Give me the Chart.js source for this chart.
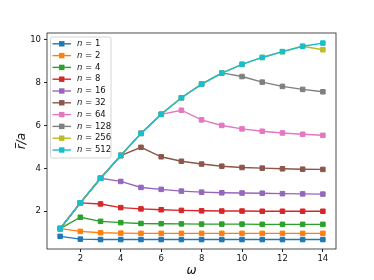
<!DOCTYPE html>
<html>
<head>
<meta charset="utf-8">
<script src="https://cdn.jsdelivr.net/npm/chart.js@4/dist/chart.umd.min.js"></script>
<style>
  body { margin: 0; background: #fff; }
  #wrap { width: 374px; height: 280px; }
</style>
</head>
<body>
<div id="wrap"><canvas id="chart" width="374" height="280"></canvas></div>
<script>
// data
const omega = [1, 2, 3, 4, 5, 6, 7, 8, 9, 10, 11, 12, 13, 14];
const seriesNames = ['1', '2', '4', '8', '16', '32', '64', '128', '256', '512'];
const n1   = [0.83, 0.70, 0.68, 0.68, 0.68, 0.68, 0.68, 0.68, 0.68, 0.68, 0.68, 0.68, 0.68, 0.68];
const n2   = [1.19, 1.06, 1.00, 0.98, 0.97, 0.97, 0.97, 0.97, 0.97, 0.97, 0.97, 0.97, 0.97, 0.97];
const n4   = [1.19, 1.72, 1.53, 1.47, 1.43, 1.42, 1.41, 1.40, 1.40, 1.40, 1.39, 1.39, 1.39, 1.39];
const n8   = [1.19, 2.39, 2.34, 2.17, 2.11, 2.07, 2.04, 2.02, 2.01, 2.01, 2.00, 2.00, 2.00, 2.00];
const n16  = [1.19, 2.39, 3.54, 3.39, 3.11, 3.02, 2.94, 2.89, 2.86, 2.85, 2.84, 2.82, 2.81, 2.80];
const n32  = [1.19, 2.39, 3.54, 4.60, 4.98, 4.54, 4.33, 4.20, 4.10, 4.04, 4.01, 3.98, 3.96, 3.95];
const n64  = [1.19, 2.39, 3.54, 4.60, 5.63, 6.52, 6.71, 6.26, 6.00, 5.84, 5.73, 5.65, 5.59, 5.54];
const n128 = [1.19, 2.39, 3.54, 4.60, 5.63, 6.52, 7.29, 7.93, 8.45, 8.28, 8.02, 7.82, 7.68, 7.57];
const n256 = [1.19, 2.39, 3.54, 4.60, 5.63, 6.52, 7.29, 7.93, 8.44, 8.85, 9.17, 9.44, 9.69, 9.53];
const n512 = [1.19, 2.39, 3.54, 4.60, 5.63, 6.52, 7.29, 7.93, 8.44, 8.85, 9.17, 9.44, 9.69, 9.84];
const xTicks = [2, 4, 6, 8, 10, 12, 14];
const yTicks = [2, 4, 6, 8, 10];

const allSeries = [n1, n2, n4, n8, n16, n32, n64, n128, n256, n512];
const colors = ['#1f77b4', '#ff7f0e', '#2ca02c', '#d62728', '#9467bd',
                '#8c564b', '#e377c2', '#7f7f7f', '#bcbd22', '#17becf'];

const datasets = allSeries.map((vals, i) => ({
  label: 'n = ' + seriesNames[i],
  data: vals.map((v, k) => ({ x: omega[k], y: v })),
  borderColor: colors[i],
  backgroundColor: colors[i],
  borderWidth: 1.4,
  pointStyle: 'rect',
  pointRadius: 3.2,
  pointBorderWidth: 1,
  pointBorderColor: colors[i],
  pointBackgroundColor: colors[i],
  // later series drawn on top, like matplotlib
  order: allSeries.length - i
}));

// spines, legend box and axis labels
const extras = {
  id: 'extras',
  afterDraw(chart) {
    const ctx = chart.ctx, a = chart.chartArea;
    ctx.save();
    ctx.strokeStyle = '#222';
    ctx.lineWidth = 0.8;
    ctx.strokeRect(a.left, a.top, a.right - a.left, a.bottom - a.top);

    // legend
    const lx = a.left + 3.5, ly = a.top + 4;
    ctx.beginPath();
    ctx.roundRect(lx, ly, 60.5, 121, 2);
    ctx.fillStyle = 'rgba(255,255,255,0.8)';
    ctx.fill();
    ctx.strokeStyle = '#cccccc';
    ctx.lineWidth = 0.8;
    ctx.stroke();
    seriesNames.forEach((name, i) => {
      const y = ly + 6.8 + i * 11.8;
      ctx.strokeStyle = colors[i];
      ctx.lineWidth = 1.4;
      ctx.beginPath();
      ctx.moveTo(lx + 2, y);
      ctx.lineTo(lx + 20.5, y);
      ctx.stroke();
      ctx.fillStyle = colors[i];
      ctx.fillRect(lx + 11.25 - 2.7, y - 2.7, 5.4, 5.4);
      ctx.fillStyle = '#111';
      ctx.textBaseline = 'middle';
      ctx.textAlign = 'left';
      ctx.font = 'italic 8.5px "DejaVu Sans"';
      ctx.fillText('n', lx + 26.5, y);
      const w = ctx.measureText('n').width;
      ctx.font = '8.5px "DejaVu Sans"';
      ctx.fillText(' = ' + name, lx + 26.5 + w, y);
    });

    // x label
    ctx.fillStyle = '#111';
    ctx.font = 'italic 12px "DejaVu Sans"';
    ctx.textAlign = 'center';
    ctx.textBaseline = 'alphabetic';
    ctx.fillText('ω', (a.left + a.right) / 2, 274);

    // y label: r with overbar, over a
    ctx.translate(22, (a.top + a.bottom) / 2);
    ctx.rotate(-Math.PI / 2);
    ctx.textAlign = 'left';
    const full = ctx.measureText('r/a').width;
    const rw = ctx.measureText('r').width;
    const x0 = -full / 2;
    ctx.fillText('r/a', x0, 3);
    ctx.strokeStyle = '#111';
    ctx.lineWidth = 0.9;
    ctx.beginPath();
    ctx.moveTo(x0 + 1, -6.5);
    ctx.lineTo(x0 + rw + 1.5, -6.5);
    ctx.stroke();
    ctx.restore();
  }
};

const tickFont = { family: '"DejaVu Sans"', size: 8.5 };

new Chart(document.getElementById('chart'), {
  type: 'line',
  data: { datasets },
  options: {
    responsive: false,
    animation: false,
    devicePixelRatio: 1,
    layout: { padding: { left: 0, top: 33, right: 38, bottom: 0 } },
    plugins: {
      legend: { display: false },
      tooltip: { enabled: false }
    },
    scales: {
      x: {
        type: 'linear',
        min: 0.35,
        max: 14.65,
        afterBuildTicks: s => { s.ticks = xTicks.map(v => ({ value: v })); },
        afterFit: s => { s.height = 31; },
        grid: { drawOnChartArea: false, drawTicks: true, tickLength: 3, color: '#222' },
        border: { display: false },
        ticks: { font: tickFont, color: '#111', padding: 2, maxRotation: 0 }
      },
      y: {
        type: 'linear',
        min: 0.24,
        max: 10.31,
        afterBuildTicks: s => { s.ticks = yTicks.map(v => ({ value: v })); },
        afterFit: s => { s.width = 47; },
        grid: { drawOnChartArea: false, drawTicks: true, tickLength: 3, color: '#222' },
        border: { display: false },
        ticks: { font: tickFont, color: '#111', padding: 3 }
      }
    }
  },
  plugins: [extras]
});
</script>
</body>
</html>
